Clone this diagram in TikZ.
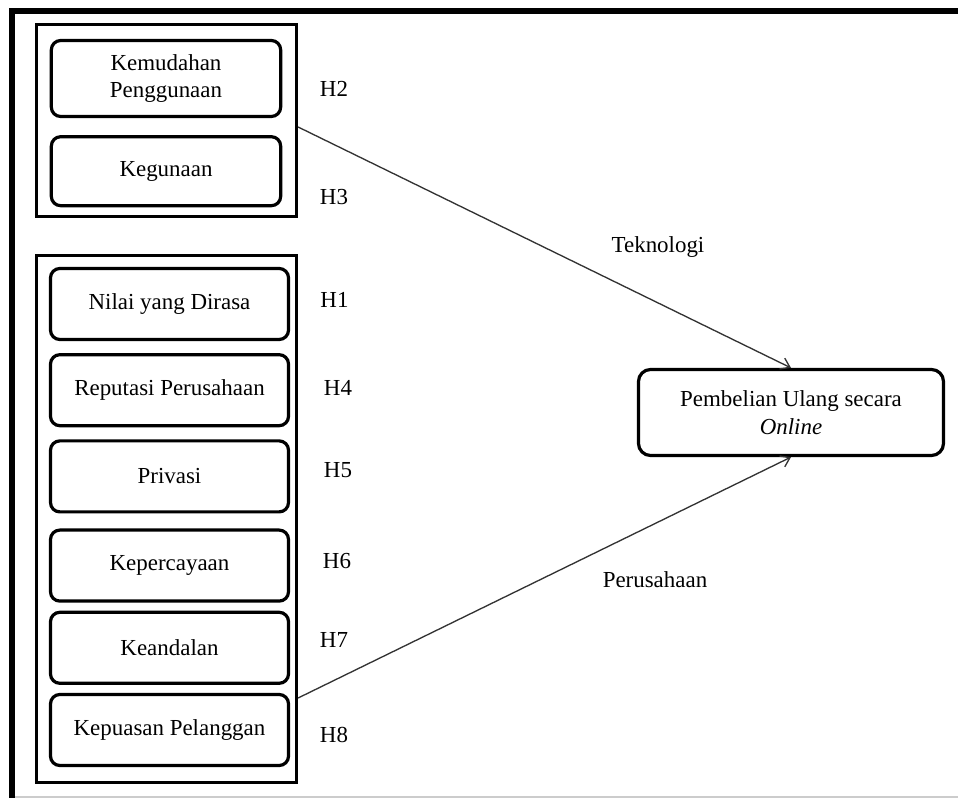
\documentclass[tikz,border=0pt]{standalone}
\usepackage{fontspec}
\setmainfont{Liberation Serif}
\usetikzlibrary{arrows.meta, calc, positioning}

\begin{document}
\begin{tikzpicture}[
    x=0.75pt, y=-0.75pt,
    node distance=9pt,
    box/.style={rectangle, draw, line width=2.4pt, rounded corners=7pt, minimum width=178.5pt, minimum height=53.25pt, align=center, font=\fontsize{17.2}{20.5}\selectfont},
    group/.style={rectangle, draw, line width=2.4pt, minimum width=195pt},
    hlabel/.style={font=\fontsize{17.2}{20.5}\selectfont},
    arrow/.style={-{Straight Barb[length=6.5pt,width=9pt]}, line width=1pt, black!80}
]
    \useasboundingbox (0,0) rectangle (958,798);

    % bingkai luar
    \draw[line width=4.5pt] (958,11) -- (12,11) -- (12,798);
    \draw[gray!40, line width=1.5pt] (15,797) -- (958,797);

    % teknologi
    \node[group, minimum height=144pt] (teknologi) at (166.5,120.5) {};
    \node[box, minimum width=172pt, minimum height=57pt] (kemudahan) at (166,78.5) {Kemudahan\\Penggunaan};
    \node[box, minimum width=172pt, minimum height=51.75pt, below=12.75pt of kemudahan] (kegunaan) {Kegunaan};

    % perusahaan
    \node[group, minimum height=395.25pt] (perusahaan) at (166.5,519) {};
    \node[box] (nilai) at (169.5,304) {Nilai yang Dirasa};
    \node[box, below=of nilai] (reputasi) {Reputasi Perusahaan};
    \node[box, below=of reputasi] (privasi) {Privasi};
    \node[box, below=11.25pt of privasi] (kepercayaan) {Kepercayaan};
    \node[box, below=6pt of kepercayaan] (keandalan) {Keandalan};
    \node[box, below=6pt of keandalan] (kepuasan) {Kepuasan Pelanggan};

    % hipotesis
    \node[hlabel] (h2) at (334,89) {H2};
    \node[hlabel] (h3) at (334,197.5) {H3};
    \node[hlabel] (h1) at (334.5,299.5) {H1};
    \node[hlabel] (h4) at (338,388) {H4};
    \node[hlabel] (h5) at (338,470) {H5};
    \node[hlabel] (h6) at (337,561) {H6};
    \node[hlabel] (h7) at (334,640) {H7};
    \node[hlabel] (h8) at (334,735) {H8};

    % variabel dependen
    \node[box, minimum width=228.75pt, minimum height=64.5pt, rounded corners=9pt] (pembelian) at (791,412.5) {Pembelian Ulang secara\\\textit{Online}};

    % panah
    \coordinate (dariTek) at ($(teknologi.east)+(0,6.5)$);
    \coordinate (dariPer) at ($(perusahaan.east)+(0,179)$);
    \draw[arrow] (dariTek) -- (pembelian.north);
    \draw[arrow] (dariPer) -- (pembelian.south);
    \node[hlabel] (lblTek) at (658,247) {Teknologi};
    \node[hlabel] (lblPer) at (655,580) {Perusahaan};
\end{tikzpicture}
\end{document}
